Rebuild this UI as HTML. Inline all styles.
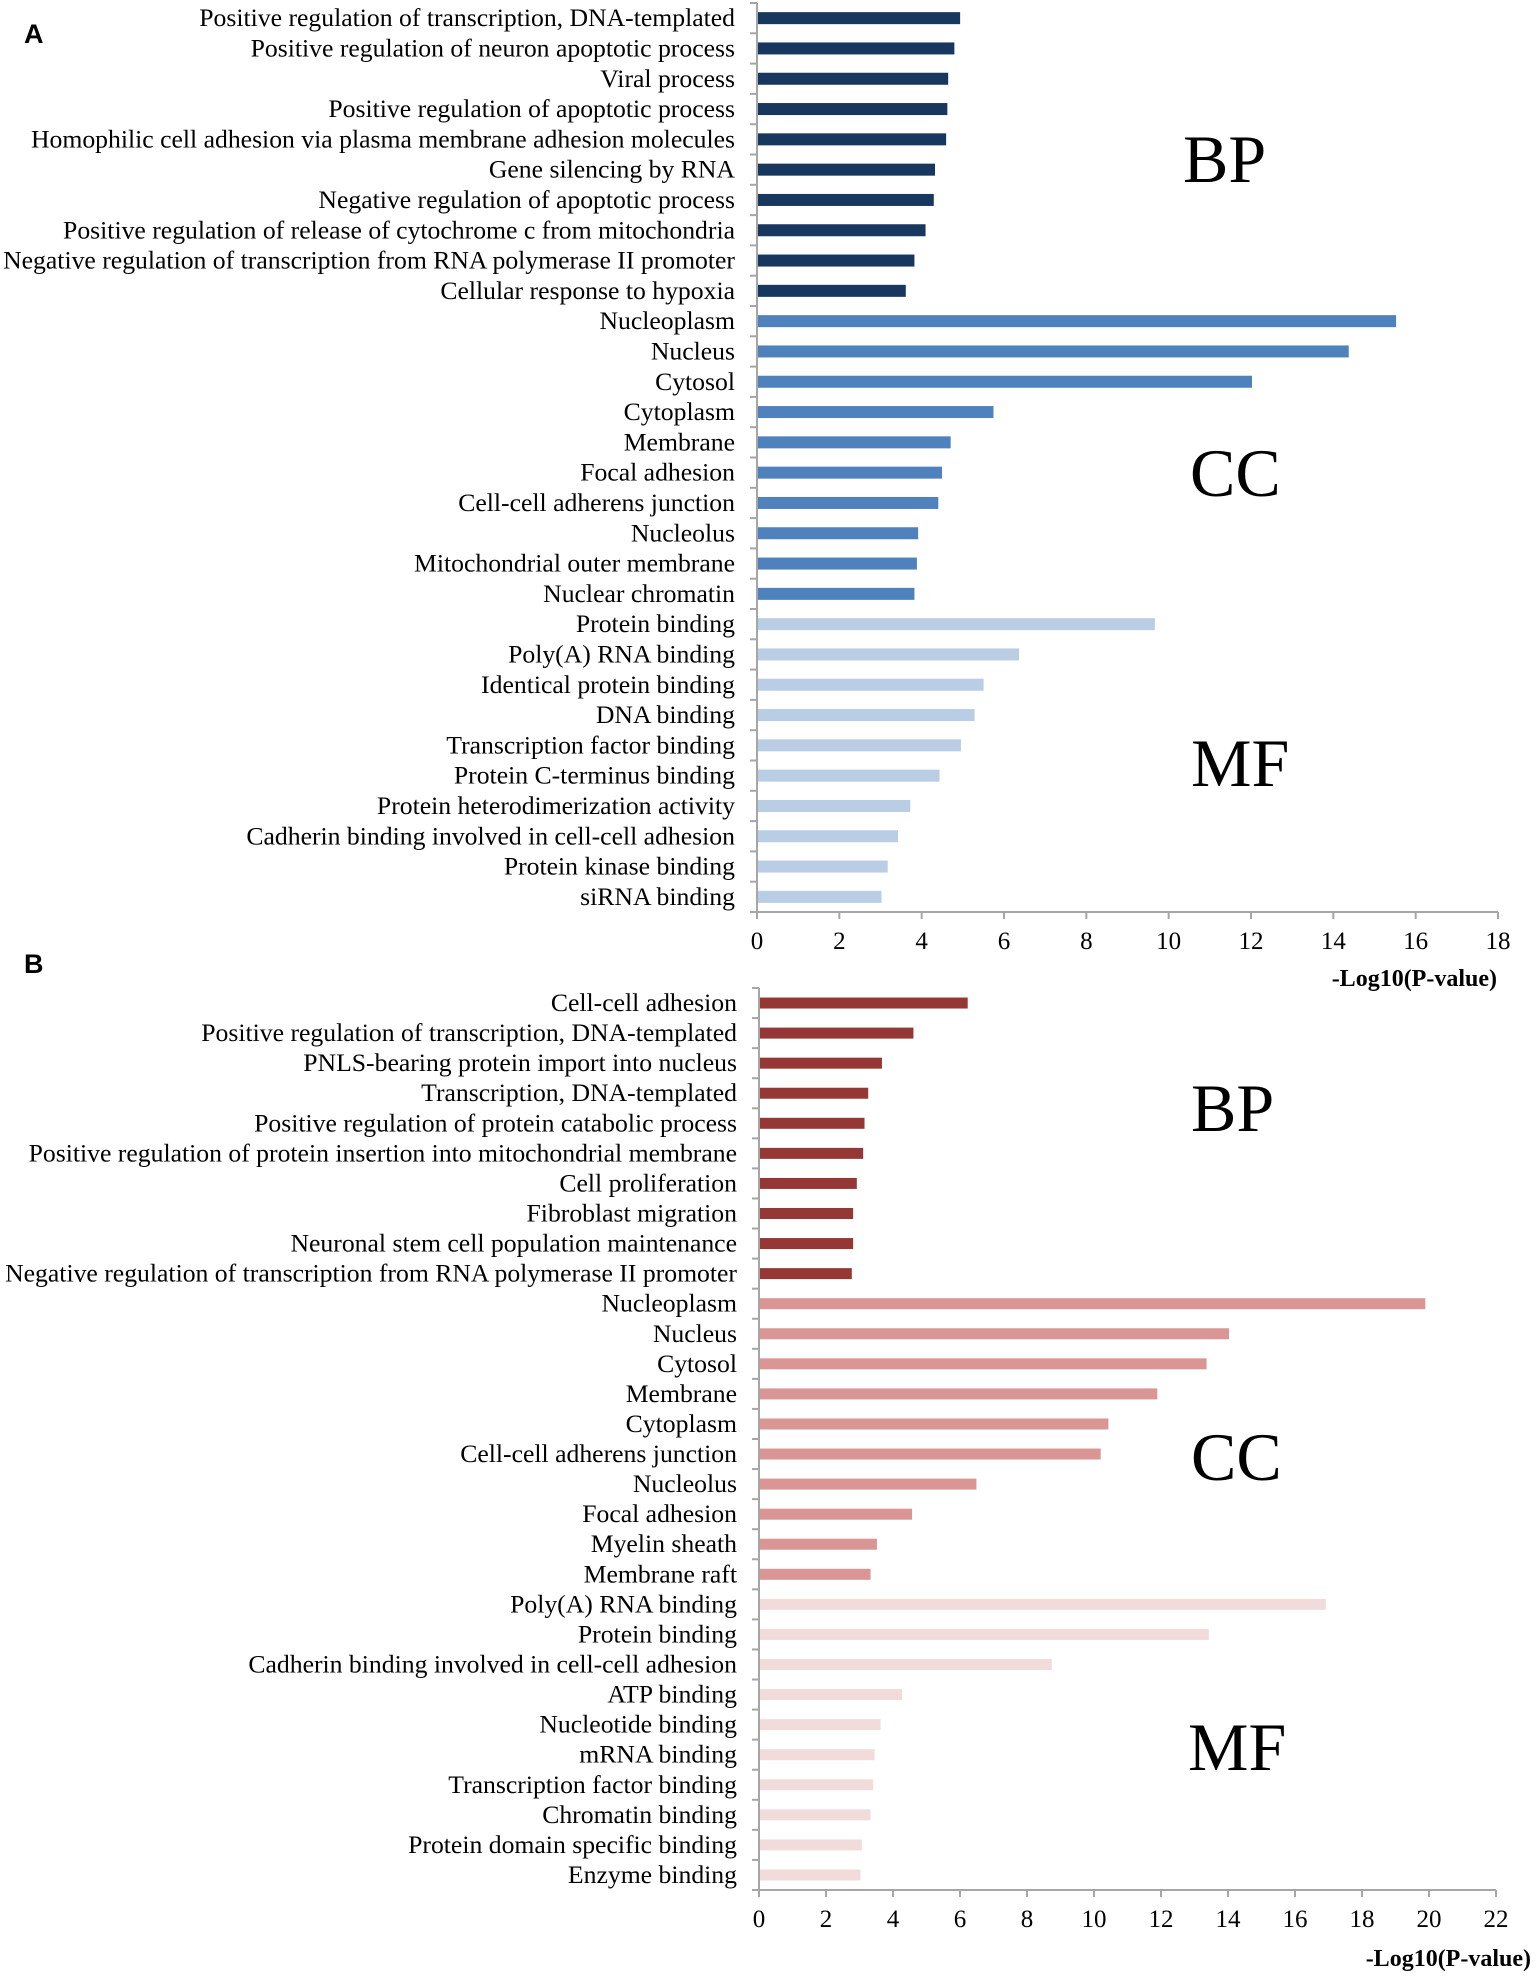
<!DOCTYPE html>
<html><head><meta charset="utf-8"><style>
html,body{margin:0;padding:0;background:#fff}
svg{display:block}
text{font-family:"Liberation Serif",serif;fill:#000}
</style></head><body>
<svg id="chart" width="1536" height="1977" viewBox="0 0 1536 1977" xmlns="http://www.w3.org/2000/svg"></svg>
<script>
const catsA_BP=["Positive regulation of transcription, DNA-templated","Positive regulation of neuron apoptotic process","Viral process","Positive regulation of apoptotic process","Homophilic cell adhesion via plasma membrane adhesion molecules","Gene silencing by RNA","Negative regulation of apoptotic process","Positive regulation of release of cytochrome c from mitochondria","Negative regulation of transcription from RNA polymerase II promoter","Cellular response to hypoxia"];
const valsA_BP=[4.91,4.77,4.62,4.6,4.57,4.3,4.27,4.07,3.8,3.59];
const catsA_CC=["Nucleoplasm","Nucleus","Cytosol","Cytoplasm","Membrane","Focal adhesion","Cell-cell adherens junction","Nucleolus","Mitochondrial outer membrane","Nuclear chromatin"];
const valsA_CC=[15.5,14.35,12.0,5.72,4.68,4.47,4.38,3.89,3.86,3.8];
const catsA_MF=["Protein binding","Poly(A) RNA binding","Identical protein binding","DNA binding","Transcription factor binding","Protein C-terminus binding","Protein heterodimerization activity","Cadherin binding involved in cell-cell adhesion","Protein kinase binding","siRNA binding"];
const valsA_MF=[9.64,6.34,5.48,5.26,4.93,4.41,3.7,3.4,3.15,3.0];
const catsB_BP=["Cell-cell adhesion","Positive regulation of transcription, DNA-templated","PNLS-bearing protein import into nucleus","Transcription, DNA-templated","Positive regulation of protein catabolic process","Positive regulation of protein insertion into mitochondrial membrane","Cell proliferation","Fibroblast migration","Neuronal stem cell population maintenance","Negative regulation of transcription from RNA polymerase II promoter"];
const valsB_BP=[6.2,4.58,3.64,3.23,3.12,3.08,2.89,2.78,2.78,2.74];
const catsB_CC=["Nucleoplasm","Nucleus","Cytosol","Membrane","Cytoplasm","Cell-cell adherens junction","Nucleolus","Focal adhesion","Myelin sheath","Membrane raft"];
const valsB_CC=[19.86,14.0,13.33,11.86,10.4,10.17,6.46,4.54,3.49,3.3];
const catsB_MF=["Poly(A) RNA binding","Protein binding","Cadherin binding involved in cell-cell adhesion","ATP binding","Nucleotide binding","mRNA binding","Transcription factor binding","Chromatin binding","Protein domain specific binding","Enzyme binding"];
const valsB_MF=[16.89,13.4,8.71,4.24,3.6,3.42,3.38,3.3,3.04,3.0];
const ticksA=[0,2,4,6,8,10,12,14,16,18];
const ticksB=[0,2,4,6,8,10,12,14,16,18,20,22];

const NS="http://www.w3.org/2000/svg";
const svg=document.getElementById('chart');
function mk(tag,attrs,parent){const e=document.createElementNS(NS,tag);for(const k in attrs)e.setAttribute(k,attrs[k]);(parent||svg).appendChild(e);return e;}

function panel(cfg){
  const g=mk('g',{});
  
  
  const groups=[[cfg.bp,cfg.bpv,cfg.cols[0],'bp'],[cfg.cc,cfg.ccv,cfg.cols[1],'cc'],[cfg.mf,cfg.mfv,cfg.cols[2],'mf']];
  const n=30, band=(cfg.y1-cfg.y0)/n;
  const xs=v=>cfg.x0+(v-0)/(cfg.max)*(cfg.x1-cfg.x0);
  let i=0;
  groups.forEach(([cats,vals,col,gname])=>{
    cats.forEach((c,j)=>{
      const yc=cfg.y0+band*(i+0.5);
      const r=mk('rect',{x:xs(0)+1,y:yc-cfg.bh/2,width:xs(vals[j])-xs(0),height:cfg.bh,fill:col},g);
      
      
      const t=mk('text',{x:cfg.x0-22,y:yc+8,'text-anchor':'end','font-size':'25.7'},g);
      t.textContent=c;
      
      
      i++;
    });
  });
  const ya=mk('line',{x1:cfg.x0,y1:cfg.y0,x2:cfg.x0,y2:cfg.y1,stroke:'#a6a6a6','stroke-width':2},g);
  
  
  for(let k=0;k<=n;k++){const y=cfg.y0+band*k;mk('line',{x1:cfg.x0-7,y1:y,x2:cfg.x0,y2:y,stroke:'#a6a6a6','stroke-width':2},g);}
  const xa=mk('line',{x1:cfg.x0,y1:cfg.y1,x2:cfg.x1,y2:cfg.y1,stroke:'#a6a6a6','stroke-width':2},g);
  
  
  cfg.ticks.forEach(tv=>{
    const x=xs(tv);
    mk('line',{x1:x,y1:cfg.y1,x2:x,y2:cfg.y1+7,stroke:'#a6a6a6','stroke-width':2},g);
    const t=mk('text',{x:x,y:cfg.y1+37,'text-anchor':'middle','font-size':'25'},g);
    t.textContent=tv;
    
    
  });
  const tt=mk('text',{x:cfg.titleX,y:cfg.titleY,'text-anchor':'end','font-size':'24','font-weight':'bold'},g);
  tt.textContent='-Log10(P-value)';
  
  
  cfg.glabels.forEach(([txt,x,y])=>{
    const t=mk('text',{x:x,y:y,'font-size':'68'},g);
    t.textContent=txt;
    
    
  });
  const pl=mk('text',{x:24,y:cfg.letterY,'font-size':'27','font-weight':'bold',style:'font-family:"Liberation Sans",sans-serif'},g);
  pl.textContent=cfg.id;
  
  
}

panel({id:'A',x0:757,x1:1498,max:18,y0:3,y1:912,bh:12,ticks:ticksA,
  bp:catsA_BP,bpv:valsA_BP,cc:catsA_CC,ccv:valsA_CC,mf:catsA_MF,mfv:valsA_MF,
  cols:['#17375e','#4f81bd','#b9cde5'],titleX:1497,titleY:986,letterY:43,
  glabels:[['BP',1183,182],['CC',1190,496],['MF',1191,786]]});
panel({id:'B',x0:759,x1:1496,max:22,y0:988,y1:1890,bh:11,ticks:ticksB,
  bp:catsB_BP,bpv:valsB_BP,cc:catsB_CC,ccv:valsB_CC,mf:catsB_MF,mfv:valsB_MF,
  cols:['#953735','#d99694','#f2dcdb'],titleX:1531,titleY:1966,letterY:973,
  glabels:[['BP',1191,1131],['CC',1191,1480],['MF',1188,1770]]});
</script>
</body></html>
